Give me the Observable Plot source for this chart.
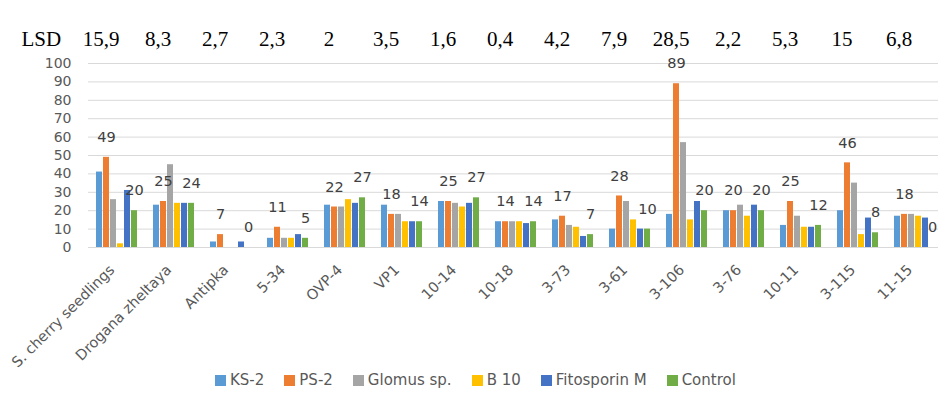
<!DOCTYPE html>
<html><head><meta charset="utf-8">
<script src="https://cdn.jsdelivr.net/npm/d3@7"></script>
<script src="https://cdn.jsdelivr.net/npm/@observablehq/plot@0.6"></script>
<style>
body{margin:0;background:#fff;font-family:'DejaVu Sans',sans-serif;}
#wrap{position:relative;width:938px;height:400px;overflow:hidden;}
#wrap svg{display:block;}
#legend{position:absolute;left:215px;top:371px;display:flex;gap:20px;font-size:15px;color:#595959;line-height:18px;}
#legend .it{display:flex;align-items:center;gap:4px;}
#legend .sw{width:11px;height:11px;display:inline-block;}
</style></head><body><div id="wrap"></div>
<script>
const categories = ["S. cherry seedlings","Drogana zheltaya","Antipka","5-34","OVP-4","VP1","10-14","10-18","3-73","3-61","3-106","3-76","10-11","3-115","11-15"];
const seriesNames = ["KS-2","PS-2","Glomus sp.","B 10","Fitosporin M","Control"];
const ks2 =        [41,23,3,5,23,23,25,14,15,10,18,20,12,20,17];
const ps2 =        [49,25,7,11,22,18,25,14,17,28,89,20,25,46,18];
const glomus =     [26,45,0,5,22,18,24,14,12,25,57,23,17,35,18];
const b10 =        [2,24,0,5,26,14,22,14,11,15,15,17,11,7,17];
const fitosporin = [31,24,3,7,24,14,24,13,6,10,25,23,11,16,16];
const control =    [20,24,0,5,27,14,27,14,7,10,20,20,12,8,0];
const lsd = ["15,9","8,3","2,7","2,3","2","3,5","1,6","0,4","4,2","7,9","28,5","2,2","5,3","15","6,8"];
const yTicks = [0,10,20,30,40,50,60,70,80,90,100];
const colors = ["#5B9BD5","#ED7D31","#A5A5A5","#FFC000","#4472C4","#70AD47"];

const seriesValues = [ks2, ps2, glomus, b10, fitosporin, control];
const table = [];
categories.forEach((c, i) => seriesNames.forEach((s, j) => table.push({cat: c, series: s, value: seriesValues[j][i]})));
const labelled = table.filter(d => d.series === "PS-2" || d.series === "Control");
const lsdRows = categories.map((c, i) => ({cat: c, lsd: lsd[i]}));

const plot = Plot.plot({
  width: 938, height: 370,
  marginLeft: 85, marginRight: -8, marginTop: 63, marginBottom: 123,
  style: {fontFamily: "'DejaVu Sans', sans-serif", fontSize: "14px", color: "#595959", background: "#fff"},
  fx: {domain: categories, paddingInner: 0, paddingOuter: 0, label: null},
  x: {domain: seriesNames, paddingInner: 0.1, paddingOuter: 1, axis: null},
  y: {domain: [0, 100], label: null},
  color: {domain: seriesNames, range: colors},
  marks: [
    Plot.gridY(yTicks, {stroke: "#d9d9d9", strokeOpacity: 1}),
    Plot.axisY(yTicks, {tickSize: 0, tickPadding: 17, fontSize: 14, label: null}),
    Plot.axisFx({anchor: "bottom", tickRotate: -45, tickSize: 0, tickPadding: 20, dx: -5, fontSize: 14.5, label: null}),
    Plot.barY(table, {fx: "cat", x: "series", y: "value", fill: "series"}),
    Plot.text(labelled, {fx: "cat", x: "series", y: "value", text: "value", dy: -20, fill: "#404040", fontSize: 14.5}),
    Plot.text(lsdRows, {fx: "cat", text: "lsd", frameAnchor: "top", dx: -16, dy: -18, lineAnchor: "bottom", fontFamily: "'Liberation Serif', serif", fontSize: 21, fill: "#000"}),
    Plot.text([{cat: categories[0]}], {fx: "cat", text: () => "LSD", frameAnchor: "top-left", dx: -67, dy: -18, lineAnchor: "bottom", textAnchor: "start", fontFamily: "'Liberation Serif', serif", fontSize: 21, fill: "#000"})
  ]
});
const wrap = document.getElementById("wrap");
wrap.appendChild(plot);
const leg = document.createElement("div");
leg.id = "legend";
seriesNames.forEach((s, j) => {
  const it = document.createElement("div");
  it.className = "it";
  it.innerHTML = `<span class="sw" style="background:${colors[j]}"></span><span>${s}</span>`;
  leg.appendChild(it);
});
wrap.appendChild(leg);
</script></body></html>
